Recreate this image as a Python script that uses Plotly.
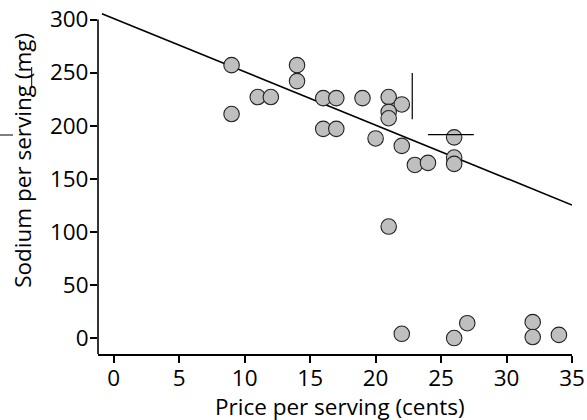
import plotly.graph_objects as go

# ---- data ----
price_cents = [9, 9, 11, 12, 14, 14, 16, 17, 19, 21, 22, 21, 21, 16, 17, 20, 22, 26,
               23, 24, 26, 26, 21, 22, 26, 27, 32, 32, 34]
sodium_mg = [257, 211, 227, 227, 257, 242, 226, 226, 226, 227, 220, 213, 207, 197, 197,
             188, 181, 189, 163, 165, 170, 164, 105, 4, 0, 14, 15, 1, 3]

fit_intercept = 301.0
fit_slope = -5.02
fit_x = [-0.9, 35]

x_ticks = [0, 5, 10, 15, 20, 25, 30, 35]
y_ticks = [0, 50, 100, 150, 200, 250, 300]

x_title = "Price per serving (cents)"
y_title = "Sodium per serving (mg)"

# ---- layout geometry ----
W, H = 587, 420
ML, MR, MT, MB = 98, 15, 11, 66
PW, PH = W - ML - MR, H - MT - MB
X_RANGE = [-1.2, 35]
Y_RANGE = [-15, 308]
FONT = dict(family="Open Sans", size=22.5, color="black")


def px_x(px):
    return (px - ML) / PW


def px_y(py):
    return (H - MB - py) / PH


fig = go.Figure()

fit_y = [fit_intercept + fit_slope * v for v in fit_x]
fig.add_trace(go.Scatter(x=fit_x, y=fit_y, mode="lines",
                         line=dict(color="black", width=1.6),
                         hoverinfo="skip", showlegend=False))

fig.add_trace(go.Scatter(x=price_cents, y=sodium_mg, mode="markers",
                         marker=dict(size=15.5, color="#bfbfbf",
                                     line=dict(color="#222222", width=1.1)),
                         showlegend=False, cliponaxis=False))

shapes = [
    # y axis line (ends at 300)
    dict(type="line", xref="paper", yref="paper", x0=0, x1=0, y0=0,
         y1=(300 - Y_RANGE[0]) / (Y_RANGE[1] - Y_RANGE[0]),
         line=dict(color="black", width=1.6)),
    # stray bar marks seen in the reference
    dict(type="line", xref="x", yref="y", x0=22.8, x1=22.8, y0=206, y1=249.5,
         line=dict(color="black", width=1.2)),
    dict(type="line", xref="x", yref="y", x0=24.0, x1=27.5, y0=191.5, y1=191.5,
         line=dict(color="black", width=1.2)),
    dict(type="line", xref="paper", yref="paper", x0=px_x(0), x1=px_x(13),
         y0=px_y(135), y1=px_y(135), line=dict(color="black", width=1.0)),
    dict(type="line", xref="paper", yref="paper", x0=px_x(31.7), x1=px_x(31.7),
         y0=px_y(67), y1=px_y(88), line=dict(color="black", width=1.0)),
]

annotations = [
    dict(text=x_title, xref="paper", yref="paper", x=px_x(340), y=px_y(407),
         xanchor="center", yanchor="middle", showarrow=False, font=FONT),
    dict(text=y_title, xref="paper", yref="paper", x=px_x(22.3), y=px_y(160.5),
         xanchor="center", yanchor="middle", showarrow=False, textangle=-90,
         font=FONT),
]

fig.update_layout(
    width=W, height=H,
    margin=dict(l=ML, r=MR, t=MT, b=MB, pad=0, autoexpand=False),
    paper_bgcolor="white", plot_bgcolor="white",
    font=FONT,
    shapes=shapes, annotations=annotations,
    xaxis=dict(range=X_RANGE, tickmode="array", tickvals=x_ticks,
               ticks="outside", ticklen=7, tickwidth=1.5, tickcolor="black",
               showline=True, linecolor="black", linewidth=1.6, automargin=False,
               showgrid=False, zeroline=False, tickfont=FONT, ticklabelstandoff=-4),
    yaxis=dict(range=Y_RANGE, tickmode="array", tickvals=y_ticks,
               ticks="outside", ticklen=7, tickwidth=1.5, tickcolor="black",
               showline=False, showgrid=False, zeroline=False, tickfont=FONT,
               automargin=False, ticklabelstandoff=-3),
)

fig.write_html("out.html",
               config={"displayModeBar": False},
               post_script="document.body.style.margin='0px';"
                           "document.body.style.overflow='hidden';")
